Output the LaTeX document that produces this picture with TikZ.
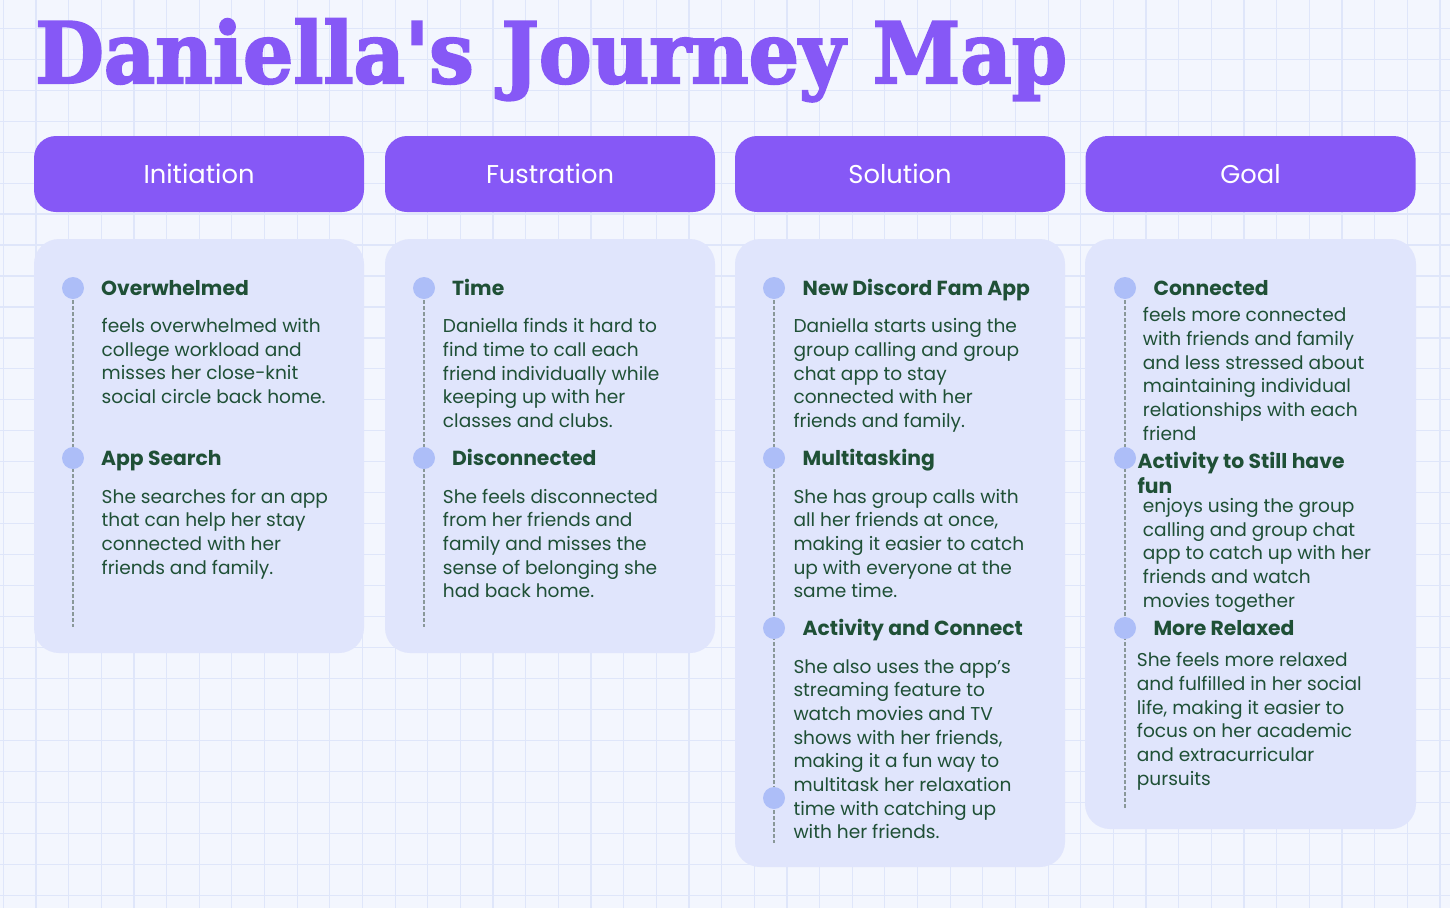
\documentclass[tikz,border=0pt]{standalone}
\usepackage{fontspec}
\usepackage{graphicx}
\setmainfont{Poppins}
\newfontfamily\titlefamily{DejaVu Serif}[BoldFeatures={FakeBold=2.5}]

\definecolor{bgc}{HTML}{F3F6FE}
\definecolor{gridc}{HTML}{DFE6FA}
\definecolor{purp}{HTML}{8658F6}
\definecolor{cardc}{HTML}{E0E5FC}
\definecolor{dotc}{HTML}{ADBEF8}
\definecolor{ink}{HTML}{1F5036}
\definecolor{dashc}{HTML}{8A9899}

\newlength\measure
\newcommand\bodyfont{\fontsize{\bodysize pt}{23.65pt}\selectfont}
\newcommand\headfont{\fontsize{\headsize pt}{25pt}\selectfont\bfseries}
\newcommand\tabfont{\fontsize{\tabsize pt}{30pt}\selectfont}
\newcommand\titlefont{\titlefamily\bfseries\fontsize{84.5pt}{90pt}\selectfont}

% text blocks are placed by the baseline of their last line
\tikzset{
  gridline/.style={draw=gridc, line width=1.2pt},
  tabbox/.style={fill=purp, rounded corners=22pt, minimum width=330pt,
    minimum height=76pt, inner sep=0pt, text=white, font=\tabfont},
  card/.style={fill=cardc, rounded corners=25pt},
  stepdot/.style={circle, fill=dotc, minimum size=22pt, inner sep=0pt},
  timeline/.style={draw=dashc, line width=1.4pt, dash pattern=on 3.5pt off 2.5pt},
  heading/.style={text=ink, font=\headfont, anchor=base west, inner sep=0pt, align=left},
  bodytext/.style={text=ink, font=\bodyfont, anchor=base west, inner sep=0pt, align=left},
}

\begin{document}
% size the fonts from the widths of sample lines
\settowidth\measure{\fontsize{10pt}{12pt}\selectfont Daniella finds it hard to}%
\pgfmathsetmacro\bodysize{2140/\measure}%
\settowidth\measure{\fontsize{10pt}{12pt}\selectfont\bfseries New Discord Fam App}%
\pgfmathsetmacro\headsize{2273/\measure}%
\settowidth\measure{\fontsize{10pt}{12pt}\selectfont Fustration}%
\pgfmathsetmacro\tabsize{1280/\measure}%
\settowidth\measure{\titlefont Daniella's Journey Map}%
\pgfmathsetmacro\titlexs{1032/\measure}%
\begin{tikzpicture}[x=1pt, y=-1pt]
  % page and grid paper
  \fill[bgc] (0,0) rectangle (1450,908);
  \useasboundingbox (0,0) rectangle (1450,908);
  \foreach \i in {0,...,44} \draw[gridline] ({3.3+\i*32.65},0) -- ({3.3+\i*32.65},908);
  \foreach \j in {0,...,28} \draw[gridline] (0,{28.3+\j*30.96}) -- (1450,{28.3+\j*30.96});

  % title
  \node[anchor=base west, inner sep=0pt, text=purp] (title) at (35,83)
    {\scalebox{\titlexs}[1]{\titlefont Daniella's Journey Map}};

  % stage tabs
  \node[tabbox] (tab1) at (199,174) {Initiation};
  \node[tabbox] (tab2) at (550,174) {Fustration};
  \node[tabbox] (tab3) at (900,174) {Solution};
  \node[tabbox] (tab4) at (1250.5,174) {Goal};

  % cards
  \path[card] (34,239) rectangle (364,653);
  \path[card] (385,239) rectangle (715,653);
  \path[card] (735,239) rectangle (1065,867);
  \path[card] (1085,239) rectangle (1416,829);

  % timeline points
  \coordinate (p11) at (73,288);   \coordinate (p12) at (73,458);   \coordinate (e1) at (73,627);
  \coordinate (p21) at (424,288);  \coordinate (p22) at (424,458);  \coordinate (e2) at (424,627);
  \coordinate (p31) at (774,288);  \coordinate (p32) at (774,458);
  \coordinate (p33) at (774,628);  \coordinate (p34) at (774,798);  \coordinate (e3) at (774,843);
  \coordinate (p41) at (1125,288); \coordinate (p42) at (1125,458);
  \coordinate (p43) at (1125,628); \coordinate (e4) at (1125,809);

  \draw[timeline] (p11) -- (e1);
  \draw[timeline] (p21) -- (e2);
  \draw[timeline] (p31) -- (e3);
  \draw[timeline] (p41) -- (e4);

  \foreach \p in {11,12,21,22,31,32,33,34,41,42,43}
    \node[stepdot] (d\p) at (p\p) {};

  % Initiation
  \node[heading] (h11) at (101,295) {Overwhelmed};
  \node[bodytext] (b11) at (101.5,403.5) {feels overwhelmed with\\college workload and\\misses her close-knit\\social circle back home.};
  \node[heading] (h12) at (101,465) {App Search};
  \node[bodytext] (b12) at (101.5,574.2) {She searches for an app\\that can help her stay\\connected with her\\friends and family.};

  % Fustration
  \node[heading] (h21) at (452,295) {Time};
  \node[bodytext] (b21) at (442.7,427.3) {Daniella finds it hard to\\find time to call each\\friend individually while\\keeping up with her\\classes and clubs.};
  \node[heading] (h22) at (452,465) {Disconnected};
  \node[bodytext] (b22) at (442.7,597.9) {She feels disconnected\\from her friends and\\family and misses the\\sense of belonging she\\had back home.};

  % Solution
  \node[heading] (h31) at (802.5,295) {New Discord Fam App};
  \node[bodytext] (b31) at (793.3,427.3) {Daniella starts using the\\group calling and group\\chat app to stay\\connected with her\\friends and family.};
  \node[heading] (h32) at (802.5,465) {Multitasking};
  \node[bodytext] (b32) at (793.3,597.9) {She has group calls with\\all her friends at once,\\making it easier to catch\\up with everyone at the\\same time.};
  \node[heading] (h33) at (802.5,635) {Activity and Connect};
  \node[bodytext] (b33) at (793.3,838.8) {She also uses the app's\\streaming feature to\\watch movies and TV\\shows with her friends,\\making it a fun way to\\multitask her relaxation\\time with catching up\\with her friends.};

  % Goal
  \node[heading] (h41) at (1153.3,295) {Connected};
  \node[bodytext] (b41) at (1142.7,440) {feels more connected\\with friends and family\\and less stressed about\\maintaining individual\\relationships with each\\friend};
  \node[heading] (h42) at (1137.3,493.3) {Activity to Still have\\fun};
  \node[bodytext] (b42) at (1142.7,607) {enjoys using the group\\calling and group chat\\app to catch up with her\\friends and watch\\movies together};
  \node[heading] (h43) at (1153.3,635) {More Relaxed};
  \node[bodytext] (b43) at (1136.7,785) {She feels more relaxed\\and fulfilled in her social\\life, making it easier to\\focus on her academic\\and extracurricular\\pursuits};
\end{tikzpicture}
\end{document}
